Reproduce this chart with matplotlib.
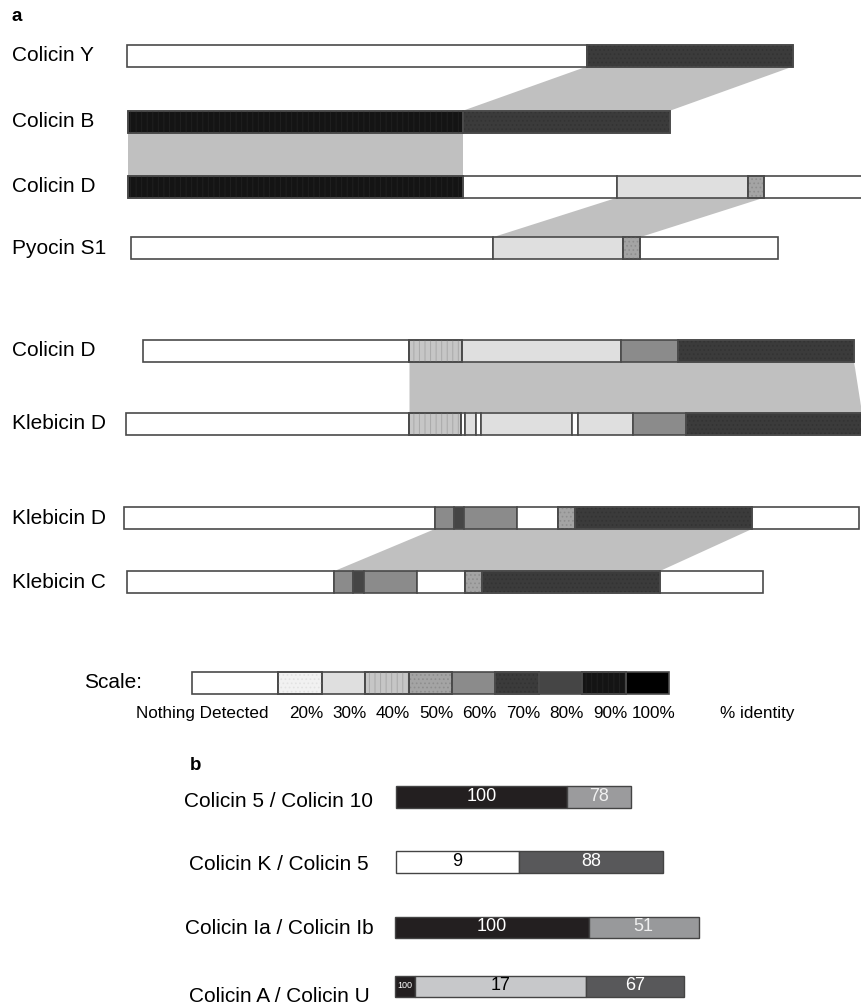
import matplotlib
matplotlib.use("Agg")
import matplotlib.pyplot as plt
from matplotlib.patches import Rectangle, Polygon

plt.rcParams['font.family'] = ['Liberation Sans', 'DejaVu Sans']
plt.rcParams['hatch.linewidth'] = 0.7

# ---------------- Part a data ----------------
row_labels = ["Colicin Y", "Colicin B", "Colicin D", "Pyocin S1",
              "Colicin D", "Klebicin D", "Klebicin D", "Klebicin C"]
row_centers = [55.5, 121.7, 186.7, 248.2, 350.5, 423.5, 518.0, 582.0]

colicin_y_bounds = [127, 587, 793]
colicin_y_levels = [0, 70]
colicin_b_bounds = [128, 463, 670]
colicin_b_levels = [90, 70]
colicin_d1_bounds = [128, 463, 617, 748, 764, 862]
colicin_d1_levels = [90, 0, 30, 50, 0]
pyocin_s1_bounds = [131, 493, 623, 640, 778]
pyocin_s1_levels = [0, 30, 50, 0]
colicin_d2_bounds = [143, 409.5, 462, 621, 678.5, 854]
colicin_d2_levels = [0, 40, 30, 60, 70]
klebicin_d1_bounds = [126, 409.5, 461, 465.5, 476, 481.5, 572, 578, 633, 686, 862]
klebicin_d1_levels = [0, 40, 0, 30, 0, 30, 0, 30, 60, 70]
klebicin_d2_bounds = [124, 435, 454, 464.5, 517.5, 558, 575, 752, 859]
klebicin_d2_levels = [0, 60, 80, 60, 0, 50, 70, 0]
klebicin_c_bounds = [127.5, 334.5, 353.5, 364.5, 417.5, 465.5, 482, 660, 763]
klebicin_c_levels = [0, 60, 80, 60, 0, 50, 70, 0]

rows_bounds = [colicin_y_bounds, colicin_b_bounds, colicin_d1_bounds, pyocin_s1_bounds,
               colicin_d2_bounds, klebicin_d1_bounds, klebicin_d2_bounds, klebicin_c_bounds]
rows_levels = [colicin_y_levels, colicin_b_levels, colicin_d1_levels, pyocin_s1_levels,
               colicin_d2_levels, klebicin_d1_levels, klebicin_d2_levels, klebicin_c_levels]

# links: (upper row, lower row, upper x0, upper x1, lower x0, lower x1)
link_rows = [(0, 1), (1, 2), (2, 3), (4, 5), (6, 7)]
link_upper = [(587, 793), (128, 463), (617, 764), (409.5, 854), (435, 752)]
link_lower = [(463, 670), (128, 463), (493, 640), (409.5, 862), (334.5, 660)]

# scale
scale_levels = [0, 20, 30, 40, 50, 60, 70, 80, 90, 100]
scale_labels = ["Nothing Detected", "20%", "30%", "40%", "50%", "60%", "70%", "80%", "90%", "100%"]

# ---------------- Part b data ----------------
b_labels = ["Colicin 5 / Colicin 10", "Colicin K / Colicin 5",
            "Colicin Ia / Colicin Ib", "Colicin A / Colicin U"]
b_values = [[100, 78], [9, 88], [100, 51], [100, 17, 67]]
b_bounds = [[396, 567, 631.5], [396, 519.3, 663], [395, 588.6, 699], [395, 415, 586.3, 684]]
b_colors = [["#231f20", "#9b9b9d"], ["#ffffff", "#58585a"],
            ["#231f20", "#98999b"], ["#231f20", "#c7c8ca", "#58585a"]]
b_text_colors = [["white", "#f0f0f0"], ["black", "white"],
                 ["white", "#f0f0f0"], ["white", "black", "white"]]
b_centers = [797.2, 862.2, 927.3, 986.7]
b_label_y = [801.5, 864.0, 929.0, 996.0]

# ---------------- style ----------------
level_face = {0: '#ffffff', 20: '#f1f1f1', 30: '#dfdfdf', 40: '#c6c6c6', 50: '#a4a4a4',
              60: '#8b8b8b', 70: '#3b3b3b', 80: '#454545', 90: '#141414', 100: '#000000'}
level_hatch = {40: ('|||', '#a9a9a9'), 90: ('|||', '#202020'), 50: ('....', '#8e8e8e'),
               20: ('....', '#e2e2e2'), 70: ('....', '#333333')}
EDGE = '#4a4a4a'
H = 22.0
FS = 15.0

fig = plt.figure(figsize=(8.62, 10.06), dpi=100)
ax = fig.add_axes([0, 0, 1, 1])
ax.set_xlim(0, 862)
ax.set_ylim(1006, 0)
ax.axis('off')


def seg(x0, x1, yc, level, h=H, lw=1.2):
    ax.add_patch(Rectangle((x0, yc - h / 2), x1 - x0, h, facecolor=level_face[level],
                           edgecolor=EDGE, lw=lw, zorder=3))
    if level in level_hatch:
        hp, hc = level_hatch[level]
        ax.add_patch(Rectangle((x0, yc - h / 2), x1 - x0, h, fill=False, hatch=hp,
                               edgecolor=hc, lw=0, zorder=3.5))
        ax.add_patch(Rectangle((x0, yc - h / 2), x1 - x0, h, fill=False,
                               edgecolor=EDGE, lw=lw, zorder=3.6))


ax.text(12, 16, "a", fontsize=13.5, fontweight='bold', ha='left', va='center')

for lab, yc, bnds, lvls in zip(row_labels, row_centers, rows_bounds, rows_levels):
    ax.text(12, yc, lab, fontsize=FS, ha='left', va='center')
    for x0, x1, lv in zip(bnds[:-1], bnds[1:], lvls):
        seg(x0, x1, yc, lv)

for (ru, rl), (ux0, ux1), (lx0, lx1) in zip(link_rows, link_upper, link_lower):
    yu = row_centers[ru] + H / 2
    yl = row_centers[rl] - H / 2
    ax.add_patch(Polygon([(ux0, yu), (ux1, yu), (lx1, yl), (lx0, yl)], closed=True,
                         facecolor='#c0c0c0', edgecolor='none', zorder=1))

# scale
scale_y = 682.5
unit = 43.4
x = 191.6
ax.text(84.5, scale_y, "Scale:", fontsize=FS, ha='left', va='center')
for i, (lv, lab) in enumerate(zip(scale_levels, scale_labels)):
    w = 2 * unit if lv == 0 else unit
    seg(x, x + w, scale_y, lv)
    if lv == 0:
        ax.text(202, 713.5, lab, fontsize=12.3, ha='center', va='center')
    else:
        ax.text(x + w / 2 + 6, 713.5, lab, fontsize=12.3, ha='center', va='center')
    x += w
ax.text(757.5, 713.5, "% identity", fontsize=12.3, ha='center', va='center')

# ---------------- Part b ----------------
ax.text(190, 765, "b", fontsize=13.5, fontweight='bold', ha='left', va='center')
bh = 21.5
for lab, ly, yc, vals, bnds, cols, tcols in zip(b_labels, b_label_y, b_centers, b_values,
                                                  b_bounds, b_colors, b_text_colors):
    ax.text(279, ly, lab, fontsize=FS, ha='center', va='center')
    for v, x0, x1, c, tc in zip(vals, bnds[:-1], bnds[1:], cols, tcols):
        ax.add_patch(Rectangle((x0, yc - bh / 2), x1 - x0, bh, facecolor=c,
                               edgecolor='#444444', lw=1.0, zorder=3))
        fs = 13.0 if x1 - x0 > 30 else 6.5
        ax.text((x0 + x1) / 2, yc - 1, str(v), fontsize=fs, color=tc,
                ha='center', va='center', zorder=4)

fig.savefig("out.png", dpi=100)
